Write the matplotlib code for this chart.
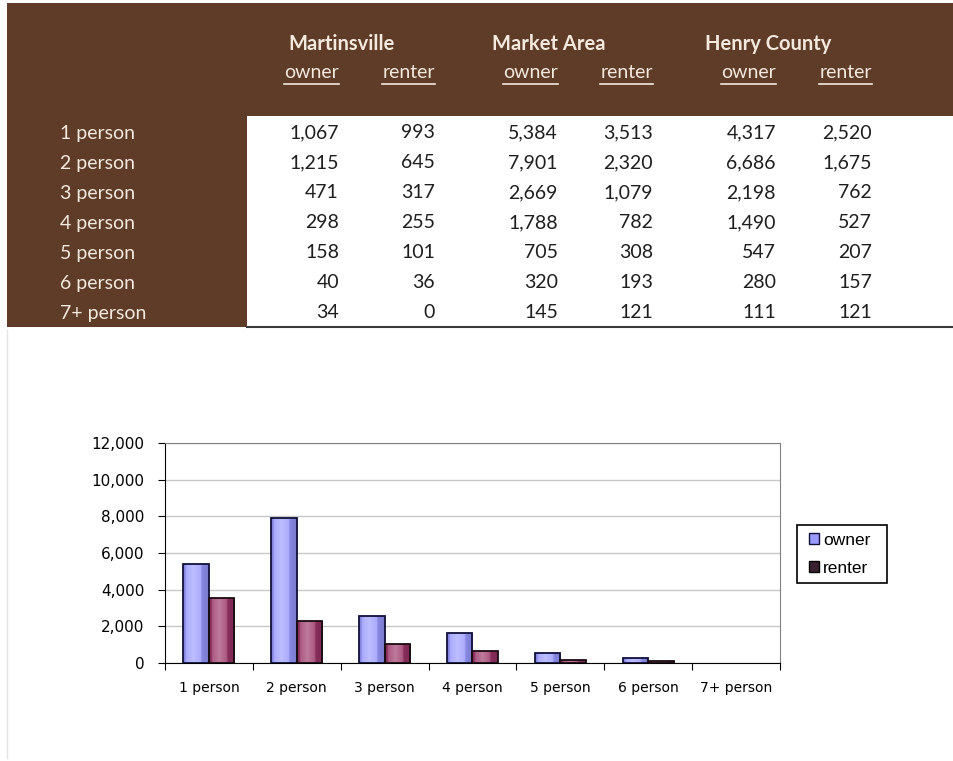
import numpy as np
import matplotlib
matplotlib.use("Agg")
import matplotlib.pyplot as plt
from matplotlib.lines import Line2D
from matplotlib.patches import Rectangle
from matplotlib.colors import to_rgb

# 表格数据
rows = ["1 person", "2 person", "3 person", "4 person", "5 person", "6 person", "7+ person"]
groups = ["Martinsville", "Market Area", "Henry County"]
mart_owner = ["1,067", "1,215", "471", "298", "158", "40", "34"]
mart_renter = ["993", "645", "317", "255", "101", "36", "0"]
mkt_owner = ["5,384", "7,901", "2,669", "1,788", "705", "320", "145"]
mkt_renter = ["3,513", "2,320", "1,079", "782", "308", "193", "121"]
hc_owner = ["4,317", "6,686", "2,198", "1,490", "547", "280", "111"]
hc_renter = ["2,520", "1,675", "762", "527", "207", "157", "121"]

# 柱状图数据
categories = rows
owner_vals = [5384, 7900, 2560, 1640, 570, 260, 0]
renter_vals = [3550, 2280, 1010, 660, 170, 90, 0]
yticks = [0, 2000, 4000, 6000, 8000, 10000, 12000]

W, H = 954, 761
BROWN = "#5e3c28"
LABEL = "#f3e9df"


def px(x, y):
    return x / W, 1 - y / H


fig = plt.figure(figsize=(W / 100, H / 100), dpi=100)
fig.patch.set_facecolor("white")

# brown block + white cell area
fig.patches.append(Rectangle(px(7, 327), (W - 7) / W, 324 / H, transform=fig.transFigure,
                             facecolor=BROWN, edgecolor="none", zorder=0))
fig.patches.append(Rectangle(px(247, 327), (W - 247) / W, 211 / H, transform=fig.transFigure,
                             facecolor="white", edgecolor="none", zorder=1))
fig.lines.append(Line2D([247 / W, 1], [1 - 327 / H] * 2, transform=fig.transFigure,
                        color="#3a3a3a", lw=1.5, zorder=2))
fig.lines.append(Line2D([7 / W, 7 / W], [1 - 330 / H, 1 - 758 / H], transform=fig.transFigure,
                        color="#e4e4e4", lw=1, zorder=2))

tfont = "Lato"
tsize = 14
row_y = [133, 163, 193, 223, 253, 283, 313]
for lab, y in zip(rows, row_y):
    fig.text(*px(60, y), lab, color=LABEL, fontsize=tsize, family=tfont, va="center", ha="left")

group_x = [288, 492, 705]
for g, x in zip(groups, group_x):
    fig.text(*px(x, 44), g, color=LABEL, fontsize=14.5, family=tfont, fontweight="bold",
             va="center", ha="left")

col_right = [339, 435, 558, 653, 776, 872]
col_data = [mart_owner, mart_renter, mkt_owner, mkt_renter, hc_owner, hc_renter]
col_head = ["owner", "renter"] * 3

renderer = fig.canvas.get_renderer()
for xr, head, vals in zip(col_right, col_head, col_data):
    t = fig.text(*px(xr, 73), head, color=LABEL, fontsize=tsize, family=tfont,
                 va="center", ha="right")
    bb = t.get_window_extent(renderer)
    fig.lines.append(Line2D([bb.x0 / W, bb.x1 / W], [1 - 84 / H] * 2, transform=fig.transFigure,
                            color=LABEL, lw=1.2))
    for v, y in zip(vals, row_y):
        fig.text(*px(xr, y), v, color="#1e1e1e", fontsize=tsize, family=tfont,
                 va="center", ha="right", zorder=3)

# 柱状图
ax = fig.add_axes([165 / W, 1 - 663 / H, 615 / W, 220 / H])
x = np.arange(len(categories))
bw = 0.29


def shade(color, n=64):
    c = np.array(to_rgb(color))
    t = np.linspace(0, 1, n)
    k = 1 - np.abs(t - 0.4) / 0.6
    light = c + (1 - c) * 0.35 * k[:, None]
    dark = c * (0.8 + 0.2 * k[:, None])
    return np.clip(np.where(k[:, None] > 0.5, light, dark), 0, 1)[None, :, :]


colors = {"owner": "#9999ff", "renter": "#993366"}
edges = {"owner": "#10103a", "renter": "#1a0a10"}
bars_o = ax.bar(x - bw / 2, owner_vals, bw, color=colors["owner"], lw=0,
                label="owner", zorder=3)
bars_r = ax.bar(x + bw / 2, renter_vals, bw, color=colors["renter"], lw=0,
                label="renter", zorder=3)
for bars, key in [(bars_o, "owner"), (bars_r, "renter")]:
    for b in bars:
        if b.get_height() <= 0:
            continue
        x0, w, h = b.get_x(), b.get_width(), b.get_height()
        im = ax.imshow(shade(colors[key]), extent=[x0, x0 + w, 0, h], aspect="auto",
                       zorder=3.5, interpolation="bicubic")
        im.set_clip_path(b)
        ax.add_patch(Rectangle((x0, 0), w, h, fill=False, edgecolor=edges[key],
                               lw=1.3, zorder=4))

ax.set_xlim(-0.5, len(categories) - 0.5)
ax.set_ylim(0, 12000)
ax.set_yticks(yticks)
ax.set_yticklabels([f"{v:,}" for v in yticks])
ax.yaxis.grid(True, color="#c8c8c8", lw=1)
ax.set_axisbelow(True)
ax.set_xticks(np.arange(len(categories) + 1) - 0.5)
ax.set_xticklabels([])
ax.set_xticks(x, minor=True)
ax.set_xticklabels(categories, minor=True)
ax.tick_params(axis="x", which="major", length=5, direction="out", color="black")
ax.tick_params(axis="x", which="minor", length=0, pad=13, labelsize=10)
ax.tick_params(axis="y", length=5, direction="out", labelsize=11, pad=10)
for s in ["top", "right"]:
    ax.spines[s].set_color("#808080")
for s in ["left", "bottom"]:
    ax.spines[s].set_color("black")
ax.set_facecolor("white")

# legend: frame drawn by hand so the padding matches
fig.patches.append(Rectangle(px(797, 583), 90 / W, 58 / H, transform=fig.transFigure,
                             facecolor="white", edgecolor="black", lw=1.2, zorder=5))
leg = fig.legend(handles=[Rectangle((0, 0), 1, 1, facecolor=colors["owner"], edgecolor="#10103a"),
                          Rectangle((0, 0), 1, 1, facecolor="#3a2030", edgecolor="black")],
                 labels=["owner", "renter"], loc="upper left",
                 bbox_to_anchor=px(809, 533), borderaxespad=0, borderpad=0,
                 prop={"family": "Liberation Sans", "size": 12.5},
                 frameon=False, handlelength=0.6, handleheight=0.6, handletextpad=0.2,
                 labelspacing=0.75)
leg.set_zorder(6)

fig.savefig("out.png", dpi=100, facecolor="white")
